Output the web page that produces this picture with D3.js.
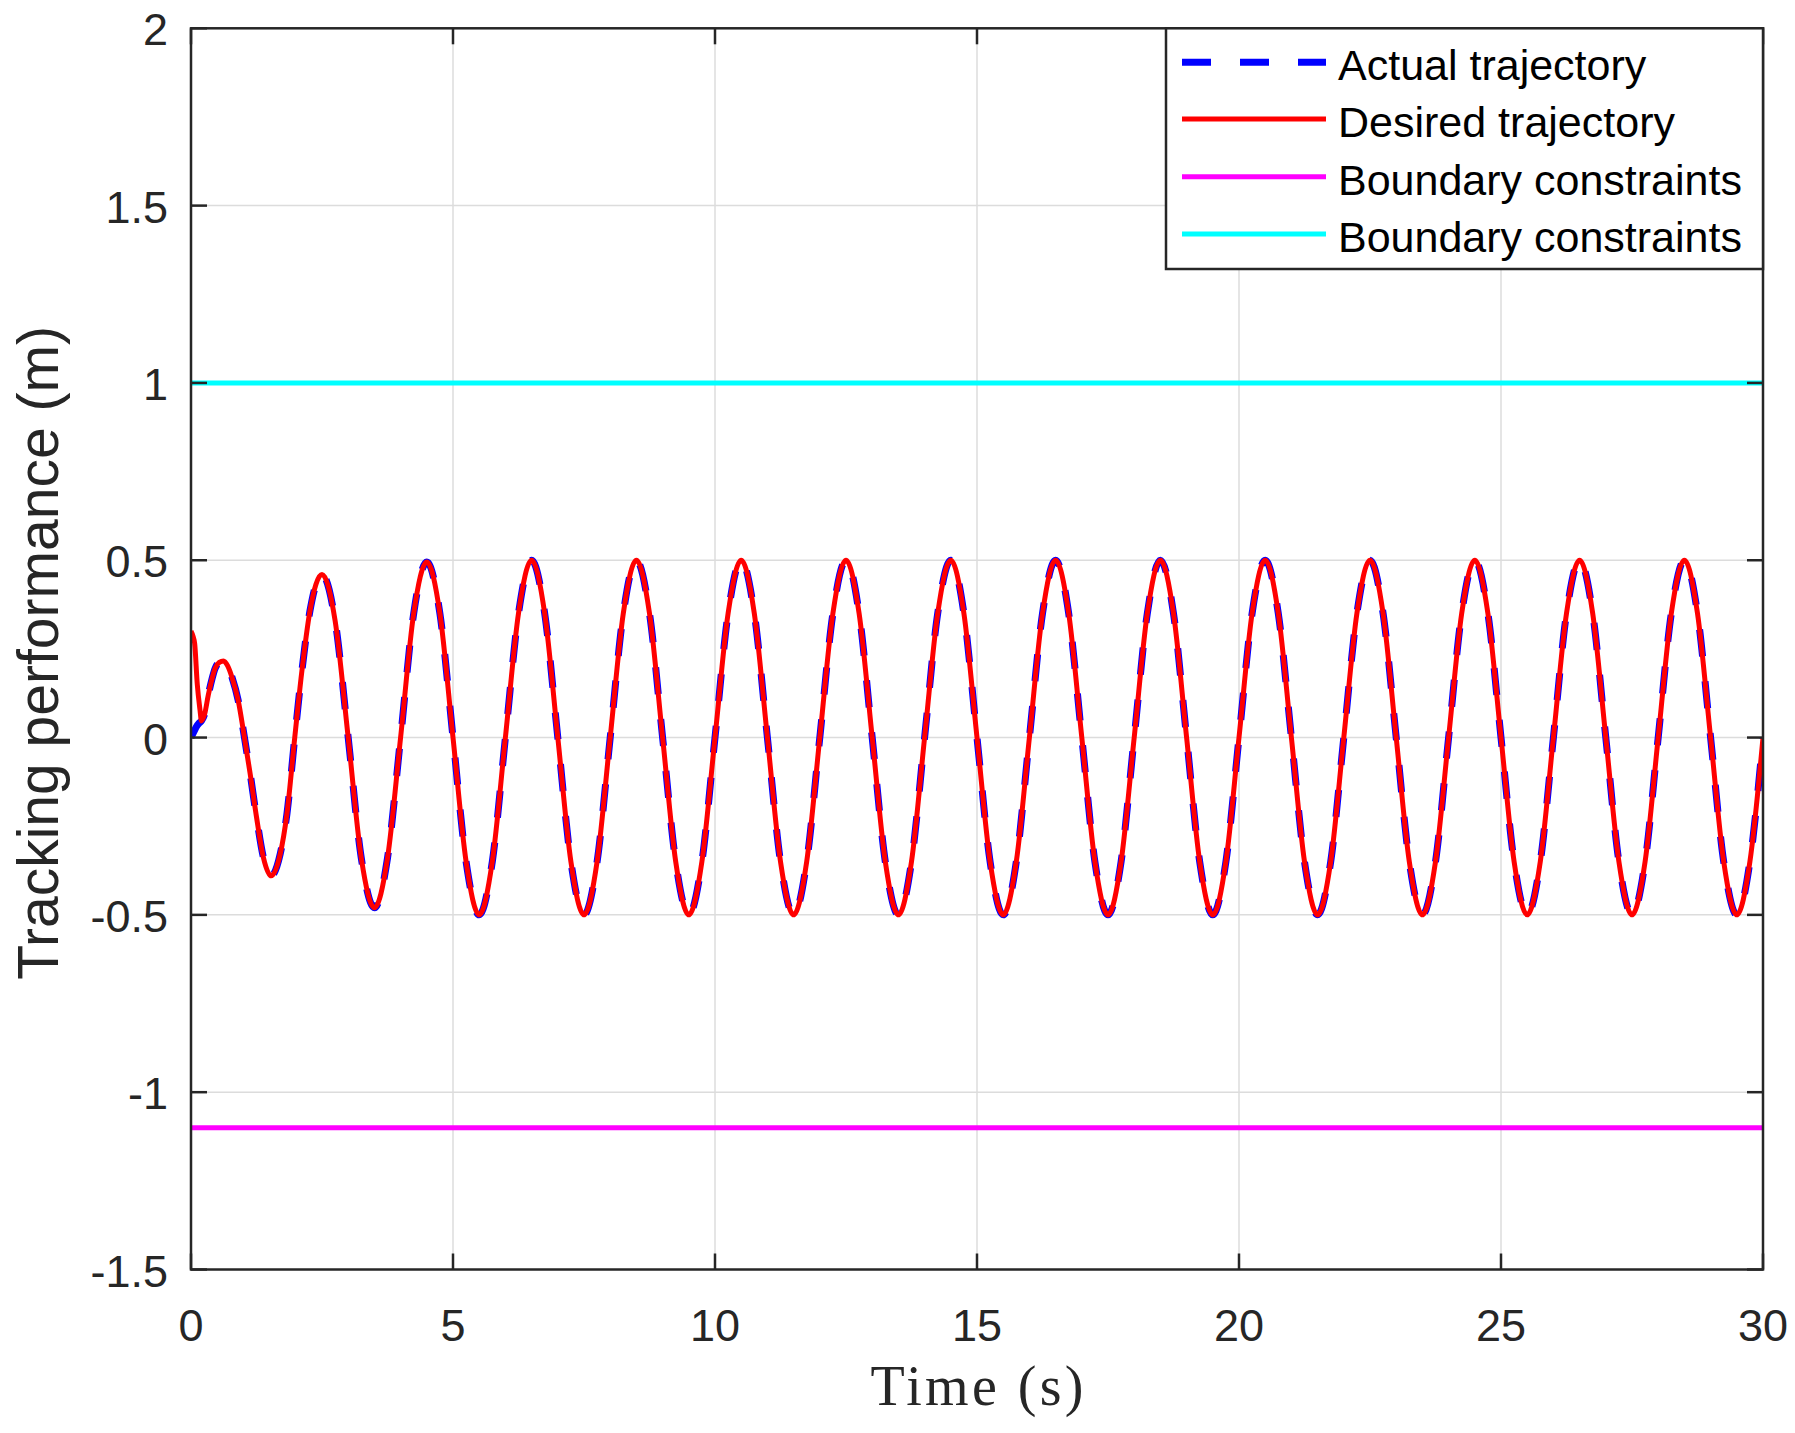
<!DOCTYPE html>
<html>
<head>
<meta charset="utf-8">
<script src="https://cdn.jsdelivr.net/npm/d3@7"></script>
<style>
  html, body { margin: 0; padding: 0; background: #ffffff; }
  svg { display: block; }
</style>
</head>
<body>
<svg id="chart" width="1795" height="1433"></svg>
<script>
// ---------------- data ----------------
const xTicks = [0, 5, 10, 15, 20, 25, 30];
const yTicks = [-1.5, -1, -0.5, 0, 0.5, 1, 1.5, 2];
const yTickLabels = ["-1.5", "-1", "-0.5", "0", "0.5", "1", "1.5", "2"];

// Desired trajectory: initial transient (read point by point)
const desiredEarlyTime  = [0, 0.04, 0.07, 0.12, 0.17, 0.2, 0.26, 0.33, 0.4, 0.46, 0.54, 0.62, 0.7, 0.78, 0.9,
                           1.02, 1.13, 1.25, 1.38, 1.53, 1.7, 1.83, 1.98, 2.11, 2.27, 2.5, 2.75, 3.0, 3.25, 3.5, 3.75];
const desiredEarlyValue = [0.30, 0.285, 0.265, 0.15, 0.08, 0.047, 0.066, 0.12, 0.165, 0.195, 0.212, 0.216, 0.202, 0.171, 0.105,
                           0.0, -0.103, -0.224, -0.337, -0.39, -0.33, -0.216, 0.0, 0.18, 0.357, 0.46, 0.33, 0.0, -0.34, -0.48, -0.34];

// Desired trajectory from t = 4 s to 30 s, read every 0.25 s
const steadyStart = 4;
const steadyStep = 0.25;
const desiredSteadyValue = [
  0, 0.35, 0.495, 0.35, 0, -0.35, -0.5, -0.35,
  0, 0.35, 0.5, 0.35, 0, -0.35, -0.5, -0.35,
  0, 0.35, 0.5, 0.35, 0, -0.35, -0.5, -0.35,
  0, 0.35, 0.5, 0.35, 0, -0.35, -0.5, -0.35,
  0, 0.35, 0.5, 0.35, 0, -0.35, -0.5, -0.35,
  0, 0.35, 0.5, 0.35, 0, -0.35, -0.5, -0.35,
  0, 0.35, 0.5, 0.35, 0, -0.35, -0.5, -0.35,
  0, 0.35, 0.5, 0.35, 0, -0.35, -0.5, -0.35,
  0, 0.35, 0.5, 0.35, 0, -0.35, -0.5, -0.35,
  0, 0.35, 0.5, 0.35, 0, -0.35, -0.5, -0.35,
  0, 0.35, 0.5, 0.35, 0, -0.35, -0.5, -0.35,
  0, 0.35, 0.5, 0.35, 0, -0.35, -0.5, -0.35,
  0, 0.35, 0.5, 0.35, 0, -0.35, -0.5, -0.35,
  0
];

// Actual trajectory: starts at 0 and joins the desired one at t ≈ 0.2 s
const actualEarlyTime  = [0, 0.05, 0.1, 0.15, 0.2];
const actualEarlyValue = [0, 0.015, 0.03, 0.04, 0.047];

const upperBound = 1;
const lowerBound = -1.1;

const legendLabels = ["Actual trajectory", "Desired trajectory", "Boundary constraints", "Boundary constraints"];

// ---------------- build series ----------------
const desired = desiredEarlyTime.map((t, i) => [t, desiredEarlyValue[i]])
  .concat(desiredSteadyValue.map((v, i) => [steadyStart + i * steadyStep, v]));
const actual = actualEarlyTime.map((t, i) => [t, actualEarlyValue[i]])
  .concat(desired.filter(d => d[0] > 0.2));

// ---------------- layout ----------------
const svg = d3.select("#chart");
const L = 191, R = 1763, T = 28.3, B = 1269.5;
const x = d3.scaleLinear().domain([0, 30]).range([L, R]);
const y = d3.scaleLinear().domain([-1.5, 2]).range([B, T]);
const axisColor = "#262626";
const sans = "'Liberation Sans', Arial, Helvetica, sans-serif";

svg.append("rect").attr("width", 1795).attr("height", 1433).attr("fill", "#fff");

// grid
const grid = svg.append("g").attr("stroke", "#dcdcdc").attr("stroke-width", 1.5);
grid.selectAll(".gx").data(xTicks.slice(1, -1)).enter().append("line")
  .attr("x1", d => x(d)).attr("x2", d => x(d)).attr("y1", T).attr("y2", B);
grid.selectAll(".gy").data(yTicks.slice(1, -1)).enter().append("line")
  .attr("y1", d => y(d)).attr("y2", d => y(d)).attr("x1", L).attr("x2", R);

// data lines
svg.append("clipPath").attr("id", "clip").append("rect")
  .attr("x", L).attr("y", T).attr("width", R - L).attr("height", B - T);
const plot = svg.append("g").attr("clip-path", "url(#clip)");
const line = d3.line().x(d => x(d[0])).y(d => y(d[1])).curve(d3.curveMonotoneX);
const smooth = d3.line().x(d => x(d[0])).y(d => y(d[1])).curve(d3.curveNatural);

function drawSeries(data, attrs) {
  // transient with monotone curve (no overshoot), steady part with natural spline
  const early = data.filter(d => d[0] <= 2.5);
  const steady = data.filter(d => d[0] >= 2.25);
  [[early, line], [steady, smooth]].forEach(([seg, gen]) => {
    const p = plot.append("path").datum(seg).attr("d", gen).attr("fill", "none");
    Object.entries(attrs).forEach(([k, v]) => p.attr(k, v));
  });
}
plot.append("path").datum(actual)
  .attr("d", d3.line().x(d => x(d[0])).y(d => y(d[1])).curve(d3.curveMonotoneX))
  .attr("fill", "none").attr("stroke", "#0000ff").attr("stroke-width", 7)
  .attr("stroke-dasharray", "27,25");
plot.append("path").datum(desired)
  .attr("d", d3.line().x(d => x(d[0])).y(d => y(d[1])).curve(d3.curveMonotoneX))
  .attr("fill", "none").attr("stroke", "#ff0000").attr("stroke-width", 5);
plot.append("line").attr("x1", x(0)).attr("x2", x(30)).attr("y1", y(lowerBound)).attr("y2", y(lowerBound))
  .attr("stroke", "#ff00ff").attr("stroke-width", 5);
plot.append("line").attr("x1", x(0)).attr("x2", x(30)).attr("y1", y(upperBound)).attr("y2", y(upperBound))
  .attr("stroke", "#00ffff").attr("stroke-width", 5);

// axes (box with inward ticks on all sides)
const tickLen = 16;
const axes = svg.append("g").attr("stroke", axisColor).attr("stroke-width", 2.5);
axes.append("rect").attr("x", L).attr("y", T).attr("width", R - L).attr("height", B - T).attr("fill", "none");
xTicks.forEach(t => {
  axes.append("line").attr("x1", x(t)).attr("x2", x(t)).attr("y1", B).attr("y2", B - tickLen);
  axes.append("line").attr("x1", x(t)).attr("x2", x(t)).attr("y1", T).attr("y2", T + tickLen);
});
yTicks.forEach(t => {
  axes.append("line").attr("y1", y(t)).attr("y2", y(t)).attr("x1", L).attr("x2", L + tickLen);
  axes.append("line").attr("y1", y(t)).attr("y2", y(t)).attr("x1", R).attr("x2", R - tickLen);
});

// tick labels
svg.append("g").selectAll("text").data(xTicks).enter().append("text")
  .attr("x", d => x(d)).attr("y", B + 71)
  .attr("text-anchor", "middle").attr("font-family", sans).attr("font-size", 45)
  .attr("fill", axisColor).text(d => d);
svg.append("g").selectAll("text").data(yTicks).enter().append("text")
  .attr("x", L - 23).attr("y", d => y(d) + 17)
  .attr("text-anchor", "end").attr("font-family", sans).attr("font-size", 45)
  .attr("fill", axisColor).text((d, i) => yTickLabels[i]);

// axis titles
svg.append("text").attr("x", (L + R) / 2).attr("y", 1405)
  .attr("text-anchor", "middle").attr("font-family", "'Liberation Serif', 'Times New Roman', serif")
  .attr("font-size", 56).attr("textLength", 213).attr("lengthAdjust", "spacing")
  .attr("fill", axisColor).text("Time (s)");
svg.append("text").attr("transform", `translate(58, ${(T + B) / 2 + 4}) rotate(-90)`)
  .attr("text-anchor", "middle").attr("font-family", sans).attr("font-size", 57)
  .attr("fill", axisColor).text("Tracking performance (m)");

// legend
const legX = 1166, legY = T, legW = R - 1166, legH = 269 - T;
const leg = svg.append("g");
leg.append("rect").attr("x", legX).attr("y", legY).attr("width", legW).attr("height", legH)
  .attr("fill", "#fff").attr("stroke", axisColor).attr("stroke-width", 2.5);
const legRows = [62.3, 119, 176.7, 234];
const legStyles = [
  { c: "#0000ff", w: 7, dash: "29,29" },
  { c: "#ff0000", w: 5, dash: null },
  { c: "#ff00ff", w: 5, dash: null },
  { c: "#00ffff", w: 5, dash: null }
];
legendLabels.forEach((lab, i) => {
  const ln = leg.append("line").attr("x1", 1182).attr("x2", 1326)
    .attr("y1", legRows[i]).attr("y2", legRows[i])
    .attr("stroke", legStyles[i].c).attr("stroke-width", legStyles[i].w);
  if (legStyles[i].dash) ln.attr("stroke-dasharray", legStyles[i].dash);
  leg.append("text").attr("x", 1338).attr("y", legRows[i] + 18)
    .attr("font-family", sans).attr("font-size", 43).attr("fill", "#000").text(lab);
});
</script>
</body>
</html>
